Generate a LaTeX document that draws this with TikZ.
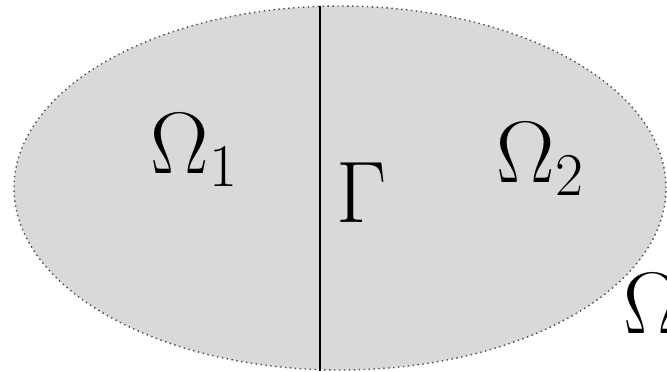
\documentclass[tikz,border=0pt]{standalone}
\usepackage{tikz}
\usetikzlibrary{shapes.geometric}

\begin{document}
\begin{tikzpicture}[
    region/.style={ellipse,draw=black!70,densely dotted,fill=black!15,inner sep=0pt,
        minimum width=6.52cm,minimum height=3.64cm},
    iface/.style={thin,black},
    lbl/.style={font=\fontsize{23.3pt}{28pt}\selectfont,inner sep=0pt,anchor=base west}
]
\useasboundingbox (0,0) rectangle (6.67,3.71);

\node[region] (dom) at (3.40,1.83) {};

\coordinate (gtop) at (3.20,3.647);
\coordinate (gbot) at (3.20,0.00);
\draw[iface] (gtop) -- (gbot);

\node[lbl] (om1) at (1.50,1.98) {$\Omega_1$};
\node[lbl] (om2) at (4.96,1.89) {$\Omega_2$};
\node[lbl] (gam) at (3.36,1.49) {$\Gamma$};
\node[lbl] (om) at (6.23,0.38) {$\Omega$};
\end{tikzpicture}
\end{document}
